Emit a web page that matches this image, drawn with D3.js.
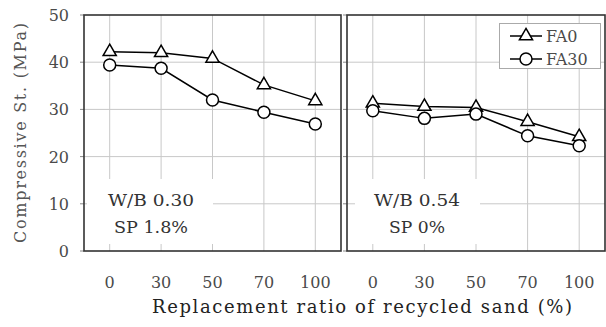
<!DOCTYPE html>
<html>
<head>
<meta charset="utf-8">
<script src="https://cdn.jsdelivr.net/npm/d3@7"></script>
<style>
  html, body { margin: 0; padding: 0; background: #fff; }
  svg { display: block; }
  text { font-family: 'DejaVu Serif', serif; }
</style>
</head>
<body>
<svg id="chart" width="606" height="327"></svg>
<script>
// Replacement ratio of recycled sand (%)
const ratios = ["0", "30", "50", "70", "100"];
const yTicks = [0, 10, 20, 30, 40, 50];

// Compressive strength (MPa), W/B 0.30, SP 1.8%
const fa0Low = [42.2, 42.0, 40.8, 35.2, 31.8];
const fa30Low = [39.4, 38.7, 32.0, 29.4, 26.9];
// Compressive strength (MPa), W/B 0.54, SP 0%
const fa0High = [31.3, 30.6, 30.4, 27.4, 24.2];
const fa30High = [29.7, 28.1, 29.0, 24.4, 22.3];

const seriesNames = ["FA0", "FA30"];
const panelLabels = [["W/B 0.30", "SP 1.8%"], ["W/B 0.54", "SP 0%"]];

const panels = [
  { x0: 84, x1: 341, series: [fa0Low, fa30Low], label: panelLabels[0] },
  { x0: 347, x1: 605, series: [fa0High, fa30High], label: panelLabels[1] }
];

const svg = d3.select("#chart");
const plotTop = 15, plotBottom = 251;
const y = d3.scaleLinear().domain([0, 50]).range([plotBottom, plotTop]);

const gridColor = "#c8c8c8";
const textColor = "#333";
const serif = "DejaVu Serif";

function marker(sel, kind) {
  if (kind === 0) {
    sel.append("path")
      .attr("d", d3.symbol().type(d3.symbolTriangle).size(75)())
      .attr("fill", "#fff").attr("stroke", "#000").attr("stroke-width", 1.5);
  } else {
    sel.append("circle").attr("r", 6)
      .attr("fill", "#fff").attr("stroke", "#000").attr("stroke-width", 1.5);
  }
}

panels.forEach((p, pi) => {
  const x = d3.scalePoint().domain(ratios).range([p.x0, p.x1]).padding(0.5);
  const g = svg.append("g");

  // horizontal grid
  g.selectAll("line.hg").data(yTicks.filter(v => v > 0 && v < 50)).join("line")
    .attr("x1", p.x0).attr("x2", p.x1)
    .attr("y1", d => y(d)).attr("y2", d => y(d))
    .attr("stroke", gridColor).attr("stroke-width", 1);
  // vertical grid
  g.selectAll("line.vg").data(ratios).join("line")
    .attr("x1", d => x(d)).attr("x2", d => x(d))
    .attr("y1", plotTop).attr("y2", plotBottom)
    .attr("stroke", gridColor).attr("stroke-width", 1);

  // y ticks on the outside of the left edge
  g.selectAll("line.yt").data(yTicks).join("line")
    .attr("x1", p.x0 - 4).attr("x2", p.x0)
    .attr("y1", d => y(d)).attr("y2", d => y(d))
    .attr("stroke", "#888").attr("stroke-width", 1);

  // annotation box with white background
  const bx = pi === 0 ? [87, 213] : [355, 480];
  g.append("rect")
    .attr("x", bx[0]).attr("y", 179)
    .attr("width", bx[1] - bx[0]).attr("height", 65)
    .attr("fill", "#fff");
  const cx = pi === 0 ? 151 : 417;
  [0, 1].forEach(k => {
    g.append("text").attr("x", cx).attr("y", 206 + k * 27)
      .attr("text-anchor", "middle").attr("font-family", serif)
      .attr("font-size", 16).attr("fill", textColor)
      .attr("textLength", k === 0 ? 86 : (pi === 0 ? 74 : 56))
      .attr("lengthAdjust", "spacingAndGlyphs")
      .text(p.label[k]);
  });

  // panel frame
  g.append("rect")
    .attr("x", p.x0).attr("y", plotTop)
    .attr("width", p.x1 - p.x0).attr("height", plotBottom - plotTop)
    .attr("fill", "none").attr("stroke", "#333").attr("stroke-width", 1.6);

  // series lines + markers
  const line = d3.line().x((d, i) => x(ratios[i])).y(d => y(d));
  p.series.forEach((vals) => {
    g.append("path").datum(vals).attr("d", line)
      .attr("fill", "none").attr("stroke", "#000").attr("stroke-width", 1.5);
  });
  p.series.forEach((vals, si) => {
    g.selectAll(null).data(vals).join("g")
      .attr("transform", (d, i) => `translate(${x(ratios[i])},${y(d)})`)
      .each(function () { marker(d3.select(this), si); });
  });

  // x tick labels
  g.selectAll("text.xt").data(ratios).join("text")
    .attr("x", d => x(d)).attr("y", 288)
    .attr("text-anchor", "middle").attr("font-family", serif)
    .attr("font-size", 16).attr("fill", "#4a4a4a")
    .text(d => d);
});

// y tick labels
svg.selectAll("text.yl").data(yTicks).join("text")
  .attr("x", 69).attr("y", d => y(d) + 6)
  .attr("text-anchor", "end").attr("font-family", serif)
  .attr("font-size", 16).attr("fill", "#4a4a4a")
  .text(d => d);

// axis titles
svg.append("text")
  .attr("transform", "translate(26,133) rotate(-90)")
  .attr("text-anchor", "middle").attr("font-family", serif)
  .attr("font-size", 16).attr("fill", "#555")
  .attr("textLength", 220).attr("lengthAdjust", "spacing")
  .text("Compressive St. (MPa)");
svg.append("text")
  .attr("x", 362).attr("y", 313)
  .attr("text-anchor", "middle").attr("font-family", serif)
  .attr("font-size", 18).attr("fill", "#222")
  .attr("textLength", 420).attr("lengthAdjust", "spacing")
  .text("Replacement ratio of recycled sand (%)");

// legend
const lg = svg.append("g");
lg.append("rect").attr("x", 499.5).attr("y", 23.5).attr("width", 101).attr("height", 45)
  .attr("fill", "#fff").attr("stroke", "#aaa").attr("stroke-width", 1);
seriesNames.forEach((name, i) => {
  const ly = 36 + i * 23;
  lg.append("line").attr("x1", 510).attr("x2", 542).attr("y1", ly).attr("y2", ly)
    .attr("stroke", "#000").attr("stroke-width", 1.5);
  const m = lg.append("g").attr("transform", `translate(526,${ly})`);
  marker(m, i);
  lg.append("text").attr("x", 546).attr("y", ly + 6)
    .attr("font-family", serif).attr("font-size", 16).attr("fill", "#4a4a4a").text(name);
});
</script>
</body>
</html>
